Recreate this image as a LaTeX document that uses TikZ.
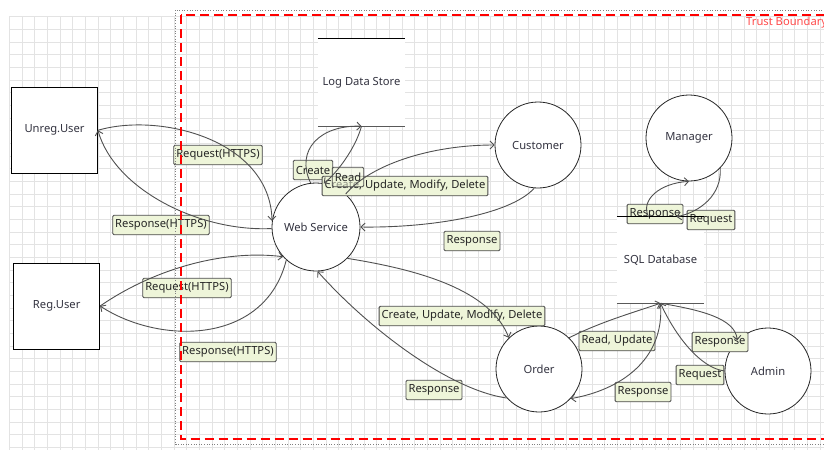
\documentclass[tikz,border=0pt]{standalone}
\usepackage{fontspec}
\setmainfont{Noto Sans}
\usetikzlibrary{arrows.meta}
\definecolor{gridcol}{HTML}{E3E3E3}
\definecolor{textcol}{HTML}{333340}
\definecolor{labelfill}{HTML}{EEF5D9}
\definecolor{labeldraw}{HTML}{4A4A4A}
\definecolor{flowcol}{HTML}{505050}
\definecolor{tbred}{HTML}{FF4A4A}
\begin{document}
\begin{tikzpicture}[x=1pt,y=-1pt,>={Straight Barb[length=4pt,width=8pt]},font=\fontsize{11.2}{13}\selectfont]
        % Styles
        \tikzstyle{grid line}=[draw=gridcol,line width=0.8pt]
        \tikzstyle{external}=[draw=black,line width=0.8pt,fill=white,minimum width=86pt,minimum height=86pt,text=textcol]
        \tikzstyle{process}=[circle,draw=black!85,line width=0.8pt,fill=white,minimum size=86pt,inner sep=0pt,text=textcol]
        \tikzstyle{store}=[fill=white,minimum width=87pt,minimum height=86pt,text=textcol]
        \tikzstyle{flow label}=[draw=labeldraw,fill=labelfill,rounded corners=1.2pt,line width=0.9pt,inner xsep=2.5pt,inner ysep=2pt,minimum height=19.5pt,text=black!85]
        \tikzstyle{flow}=[->,draw=flowcol,line width=0.9pt]
        %The graphic
        \useasboundingbox (0,0) rectangle (824,450);
        \clip (0,0) rectangle (824,450);
        %grid
        \foreach \i in {0,...,64}
            \draw[grid line] ({9.33+12.67*\i},16.67) -- ({9.33+12.67*\i},450);
        \foreach \j in {0,...,34}
            \draw[grid line] (9.33,{16.67+12.67*\j}) -- (824,{16.67+12.67*\j});
        %entities and processes
        \node[external] (unreg) at (54.5,130.3) {Unreg.User};
        \node[external] (reg) at (56.7,306) {Reg.User};
        \node[process,minimum size=88pt] (ws) at (316,227) {Web Service};
        \node[process] (cust) at (538,145) {Customer};
        \node[process] (mgr) at (689,138) {Manager};
        \node[process] (order) at (539,369) {Order};
        \node[process] (admin) at (768,371) {Admin};
        %stores
        \node[store,minimum height=87pt] (logds) at (361.5,82.5) {Log Data Store};
        \node[store] (sqldb) at (660.5,260) {SQL Database};
        %labels
        \node[flow label] (reqhttps1) at (218,155) {Request(HTTPS)};
        \node[flow label] (resphttps1) at (161,225) {Response(HTTPS)};
        \node[flow label] (reqhttps2) at (187,288) {Request(HTTPS)};
        \node[flow label] (resphttps2) at (228,352) {Response(HTTPS)};
        \node[flow label] (create) at (313,170) {Create};
        \node[flow label] (cumd1) at (405,186) {Create, Update, Modify, Delete};
        \node[flow label,fill opacity=0.55,text opacity=1] (read) at (348,177) {Read};
        \node[flow label] (respcust) at (472,241) {Response};
        \node[flow label] (cumd2) at (462,316) {Create, Update, Modify, Delete};
        \node[flow label] (resporder) at (434,390) {Response};
        \node[flow label] (readupd) at (617,341) {Read, Update};
        \node[flow label] (respsql) at (643,392) {Response};
        \node[flow label] (respadmin) at (720,342) {Response};
        \node[flow label] (reqadmin) at (700,375) {Request};
        \node[flow label] (respmgr) at (655,214) {Response};
        \node[flow label] (reqmgr) at (711,220) {Request};
        %store lines
        \draw[line width=0.9pt] (logds.north west) -- (logds.north east);
        \draw[line width=1.2pt,draw=black!65] (logds.south west) -- (logds.south east);
        \draw[line width=0.9pt] (sqldb.north west) -- (sqldb.north east);
        \draw[line width=1.2pt,draw=black!65] (sqldb.south west) -- (sqldb.south east);
        %flows
        \draw[flow] (unreg.east) .. controls (160,112) and (270,140) .. (ws.172);
        \draw[flow] (ws.182) .. controls (200,232) and (115,190) .. (unreg.east);
        \draw[flow] (reg.east) .. controls (160,265) and (230,250) .. (ws.222);
        \draw[flow] (ws.228) .. controls (265,345) and (160,345) .. (reg.east);
        \draw[flow] (ws.97) .. controls (295,150) and (320,125) .. (logds.south);
        \draw[flow] (logds.south) .. controls (355,150) and (335,175) .. (ws.80);
        \draw[flow] (ws.48) .. controls (370,165) and (430,145) .. (cust.west);
        \draw[flow] (cust.265) .. controls (510,215) and (430,228) .. (ws.east);
        \draw[flow] (ws.315) .. controls (420,270) and (490,290) .. (order.134);
        \draw[flow] (order.222) .. controls (450,390) and (370,330) .. (ws.272);
        \draw[flow] (order.46) .. controls (600,322) and (635,312) .. (sqldb.south);
        \draw[flow] (sqldb.south) .. controls (665,360) and (620,390) .. (order.317);
        \draw[flow] (sqldb.south) .. controls (700,310) and (735,318) .. (admin.135);
        \draw[flow] (admin.180) .. controls (700,368) and (675,335) .. (sqldb.south);
        \draw[flow] ([xshift=-12pt]sqldb.north) .. controls (640,200) and (660,183) .. (mgr.south);
        \draw[flow] (mgr.-44) .. controls (722,195) and (700,212) .. ([xshift=16pt]sqldb.north);
        %trust boundary
        \draw[draw=gray,dotted,line width=0.6pt] (175.7,10) rectangle (830,444.5);
        \draw[draw=red,line width=1.8pt,dash pattern=on 9pt off 5pt] (180.7,15.3) rectangle (835,439.3);
        \node[text=tbred,anchor=west,inner sep=0pt] (tb) at (746,23) {Trust Boundary};
\end{tikzpicture}
\end{document}
